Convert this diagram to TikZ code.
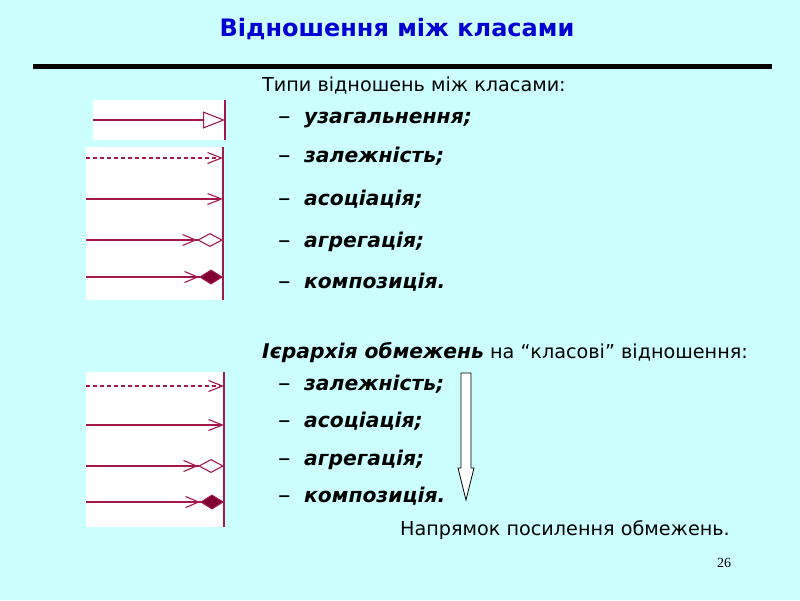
\documentclass[tikz,border=0pt]{standalone}
\usepackage{fontspec}
\setmainfont{DejaVu Sans}
\newfontfamily\numfont{Liberation Serif}
\usetikzlibrary{arrows.meta}

\definecolor{slidebg}{RGB}{204,255,255}
\definecolor{umlred}{RGB}{163,25,74}
\definecolor{umldark}{RGB}{128,0,48}
\definecolor{titleblue}{RGB}{0,0,210}

\tikzset{
  rel/.style={umlred, line width=1.1pt},
  genrel/.style={rel, -{Triangle[open,length=22pt,width=17pt]}},
  deprel/.style={rel, dash pattern=on 4pt off 3pt, -{Straight Barb[length=14pt,width=11pt]}},
  assocrel/.style={rel, -{Straight Barb[length=14pt,width=11pt]}},
  aggrrel/.style={rel, -{Straight Barb[length=13pt,width=11pt] Diamond[open,length=26pt,width=14pt]}},
  comprel/.style={rel, -{Straight Barb[length=13pt,width=11pt] Diamond[fill=umldark,length=24pt,width=15pt]}},
  bodytext/.style={anchor=west, inner sep=0pt, text height=14pt, text depth=4pt,
    font=\fontsize{19.2}{22}\selectfont},
  itemtext/.style={bodytext, font=\fontsize{20.3}{22}\selectfont\bfseries\itshape},
  dashtext/.style={bodytext, yshift=-1pt, font=\fontsize{25}{22}\selectfont},
}

\begin{document}
\begin{tikzpicture}[x=1pt,y=-1pt]
  \fill[slidebg] (0,0) rectangle (800,600);
  \useasboundingbox (0,0) rectangle (800,600);

  % title
  \node[titleblue, font=\fontsize{24}{26}\selectfont\bfseries] (title) at (397,29) {Відношення між класами};
  \draw[line width=5pt] (33,66) -- (772,66);

  % generalisation box
  \fill[white] (93,100) rectangle (225,140);
  \draw[rel] (225,100) -- (225,140);
  \coordinate (g0) at (93,120);
  \coordinate (g1) at (225,120);
  \draw[genrel] (g0) -- (g1);

  % relation types box
  \fill[white] (86,147) rectangle (223,300);
  \draw[rel] (223,147) -- (223,300);
  \foreach \n/\y in {a/158,b/199,c/240,d/277}{
    \coordinate (l\n) at (86,\y);
    \coordinate (r\n) at (223,\y);
  }
  \draw[deprel] (la) -- (ra);
  \draw[assocrel] (lb) -- (rb);
  \draw[aggrrel] (lc) -- (rc);
  \draw[comprel] (ld) -- (rd);

  % hierarchy box
  \fill[white] (86,372) rectangle (224,527);
  \draw[rel] (224,372) -- (224,527);
  \foreach \n/\y in {a/386,b/425,c/466,d/502}{
    \coordinate (hl\n) at (86,\y);
    \coordinate (hr\n) at (224,\y);
  }
  \draw[deprel] (hla) -- (hra);
  \draw[assocrel] (hlb) -- (hrb);
  \draw[aggrrel] (hlc) -- (hrc);
  \draw[comprel] (hld) -- (hrd);

  % list of relation types
  \node[bodytext] (types) at (262,86) {Типи відношень між класами:};
  \foreach \n/\y/\t in {1/118/{узагальнення;},2/157/{залежність;},3/200/{асоціація;},4/242/{агрегація;},5/283/{композиція.}}{
    \node[dashtext] (dash\n) at (278,\y) {–};
    \node[itemtext] (item\n) at (304,\y) {\t};
  }

  % hierarchy of constraints
  \node[bodytext] (hier) at (262,353) {{\fontsize{20.3}{22}\selectfont\bfseries\itshape Ієрархія обмежень} на “класові” відношення:};
  \foreach \n/\y/\t in {1/385/{залежність;},2/422/{асоціація;},3/460/{агрегація;},4/497/{композиція.}}{
    \node[dashtext] (hdash\n) at (278,\y) {–};
    \node[itemtext] (hitem\n) at (304,\y) {\t};
  }

  % direction arrow
  \draw[line width=0.8pt, fill=white] (461,373) -- (471,373) -- (471,468) -- (474,468)
    -- (466,500) -- (458,468) -- (461,468) -- cycle;
  \node[bodytext] (dir) at (400,530) {Напрямок посилення обмежень.};

  % page number
  \node[font=\numfont\fontsize{14}{16}\selectfont] (page) at (724,563) {26};
\end{tikzpicture}
\end{document}
